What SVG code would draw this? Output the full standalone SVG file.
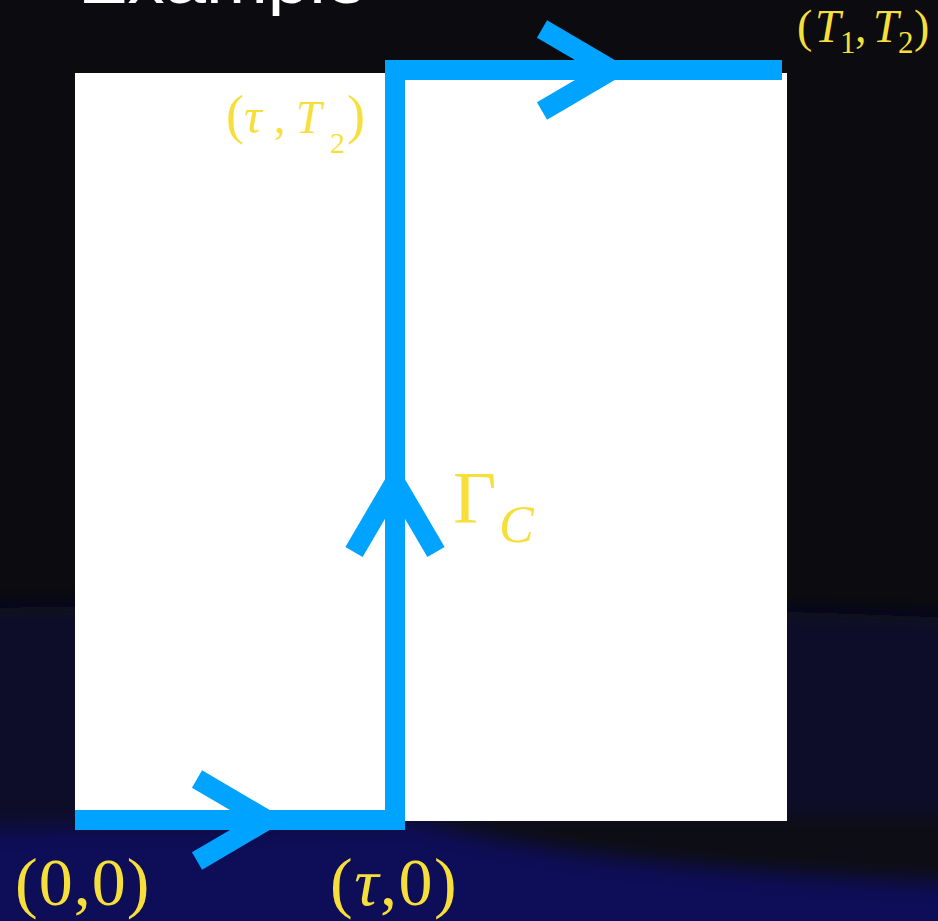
<svg xmlns="http://www.w3.org/2000/svg" width="938" height="921" viewBox="0 0 938 921">
  <defs>
    <filter id="blur" x="-20%" y="-20%" width="140%" height="140%">
      <feGaussianBlur stdDeviation="10"/>
    </filter>
    <style>
      .path { fill: none; stroke: #00a3ff; stroke-width: 20; stroke-linejoin: miter; stroke-linecap: butt; stroke-miterlimit: 10; }
      .math { fill: #f7df3b; font-family: "Liberation Serif", "Times New Roman", serif; }
      .it { font-style: italic; }
      .title { fill: #ffffff; font-family: "Liberation Sans", Arial, sans-serif; }
    </style>
  </defs>

  <!-- background -->
  <rect x="0" y="0" width="938" height="921" fill="#0b0b10"/>
  <g filter="url(#blur)">
    <path d="M-20,608 Q470,598 960,618 L960,940 L-20,940 Z" fill="#0c0c2c"/>
    <path d="M420,815 L960,815 L960,882 C760,878 580,862 440,832 Z" fill="#0b0b12"/>
    <path d="M-20,832 L420,826 C520,850 620,872 960,888 L960,940 L-20,940 Z" fill="#0c0c58"/>
  </g>

  <!-- title (cut off at top) -->
  <text class="title" x="78" y="3" font-size="64" textLength="289" lengthAdjust="spacingAndGlyphs">Example</text>

  <!-- region -->
  <g id="region">
    <rect x="75" y="73" width="712" height="748" fill="#ffffff"/>
  </g>

  <!-- connectors: contour path with arrowheads -->
  <g id="contour">
    <path class="path" d="M75,820 H395 V70 H782"/>
    <polyline class="path" points="197,779 267,820 197,861"/>
    <polyline class="path" points="354,552 395,482 436,552"/>
    <polyline class="path" points="542,29 612,70 542,111"/>
  </g>

  <!-- labels -->
  <g id="label-T1T2">
    <text class="math" y="42" font-size="46"><tspan x="797">(</tspan><tspan class="it" x="815">T</tspan><tspan x="840" y="53" font-size="31">1</tspan><tspan x="855" y="42">,</tspan><tspan class="it" x="873">T</tspan><tspan x="898" y="53" font-size="31">2</tspan><tspan x="914" y="42">)</tspan></text>
  </g>
  <g id="label-tauT2">
    <text class="math" y="133" font-size="46"><tspan x="226" font-size="54">(</tspan><tspan class="it" x="244" font-size="50">τ</tspan><tspan x="274">,</tspan><tspan class="it" x="296">T</tspan><tspan x="330" y="153" font-size="30">2</tspan><tspan x="347" y="133" font-size="54">)</tspan></text>
  </g>
  <g id="label-GammaC">
    <text class="math" x="453" y="523" font-size="75">Γ</text>
    <text class="math it" x="499" y="542" font-size="52">C</text>
  </g>
  <g id="label-00">
    <text class="math" x="15" y="905" font-size="68" letter-spacing="1">(0,0)</text>
  </g>
  <g id="label-tau0">
    <text class="math" x="330" y="905" font-size="68" letter-spacing="1.5">(<tspan class="it">τ</tspan>,0)</text>
  </g>
</svg>
